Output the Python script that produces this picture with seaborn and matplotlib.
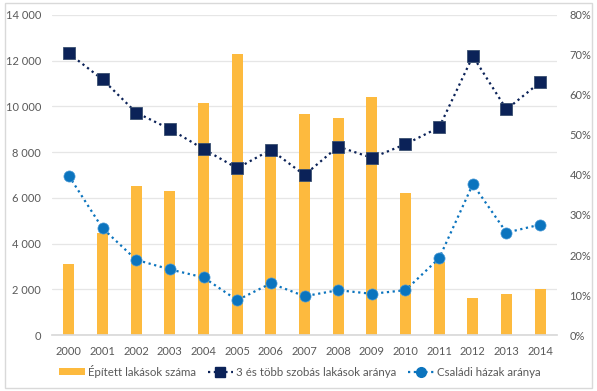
import numpy as np
import pandas as pd
import seaborn as sns
import matplotlib.pyplot as plt
from matplotlib.patches import Rectangle
from matplotlib.lines import Line2D
from matplotlib.ticker import FuncFormatter

years = [str(y) for y in range(2000, 2015)]
built = [3100, 4450, 6500, 6300, 10150, 12300, 8000, 9650, 9500, 10400, 6200, 3200, 1630, 1780, 2010]
share_3room = [70.4, 63.9, 55.6, 51.5, 46.5, 41.7, 46.3, 40.0, 47.1, 44.3, 47.7, 51.9, 69.7, 56.4, 63.2]
share_house = [39.8, 26.7, 18.8, 16.4, 14.4, 8.7, 12.9, 9.7, 11.2, 10.3, 11.2, 19.2, 37.7, 25.6, 27.6]

label_bar = "Épített lakások száma"
label_sq = "3 és több szobás lakások aránya"
label_ci = "Családi házak aránya"

c_bar = "#FDBA3E"
c_sq = "#0B2258"
c_ci = "#0B74BE"
c_txt = "#595959"

sns.set_theme(style="white")
plt.rcParams['font.family'] = ['Lato', 'DejaVu Sans']

fig = plt.figure(figsize=(5.97, 3.91), dpi=100)
ax = fig.add_axes([52/597, 1-335/391, 505/597, 320/391])

df = pd.DataFrame({"year": years, "built": built, "sq": share_3room, "ci": share_house})
sns.barplot(data=df, x="year", y="built", color=c_bar, width=0.33, ax=ax,
            saturation=1, edgecolor="none", zorder=2)
ax.set_xlim(-0.5, len(years) - 0.5)
ax.set_ylim(0, 14000)
ax.set_yticks(np.arange(0, 14001, 2000))
ax.yaxis.set_major_formatter(FuncFormatter(lambda v, p: f"{int(v):,}".replace(",", " ")))
ax.grid(axis="y", color="#E6E6E6", linewidth=0.9, zorder=0)
ax.set_axisbelow(True)
for s in ax.spines.values():
    s.set_visible(False)
ax.spines["bottom"].set_visible(True)
ax.spines["bottom"].set_color("#D9D9D9")
ax.set_xlabel("")
ax.set_ylabel("")
ax.tick_params(axis="both", labelsize=8, colors=c_txt, length=0, pad=8)

ax2 = ax.twinx()
xpos = np.arange(len(years))
dot = (0, (1, 1.6))
sns.lineplot(x=xpos, y=df["sq"], ax=ax2, color=c_sq, linestyle=dot, linewidth=1.6,
             marker="s", markersize=8.5, markeredgecolor="#3A5070", markeredgewidth=0.6)
sns.lineplot(x=xpos, y=df["ci"], ax=ax2, color=c_ci, linestyle=dot, linewidth=1.6,
             marker="o", markersize=8, markeredgecolor="#4A9AD6", markeredgewidth=0.5)
ax2.set_ylim(0, 80)
ax2.set_yticks(np.arange(0, 81, 10))
ax2.yaxis.set_major_formatter(FuncFormatter(lambda v, p: f"{int(v)}%"))
ax2.set_ylabel("")
for s in ax2.spines.values():
    s.set_visible(False)
ax2.tick_params(axis="y", labelsize=8, colors=c_txt, length=0, pad=9)
ax2.grid(False)

handles = [
    Rectangle((0, 0), 1, 1, facecolor=c_bar, edgecolor="none"),
    Line2D([0], [0], color=c_sq, linestyle=dot, linewidth=1.6, marker="s", markersize=7),
    Line2D([0], [0], color=c_ci, linestyle=dot, linewidth=1.6, marker="o", markersize=7),
]
fig.legend(handles, [label_bar, label_sq, label_ci], loc="center", ncol=3,
           bbox_to_anchor=(300/597, 1 - 371/391), frameon=False, fontsize=8.3,
           labelcolor=c_txt, handlelength=2.2, handleheight=0.6, handletextpad=0.3,
           columnspacing=1.0)

fig.patches.append(Rectangle((5/597, 3/391), 587/597, 385/391, transform=fig.transFigure,
                             fill=False, edgecolor="#D9D9D9", linewidth=1))

fig.savefig("out.png", dpi=100)
